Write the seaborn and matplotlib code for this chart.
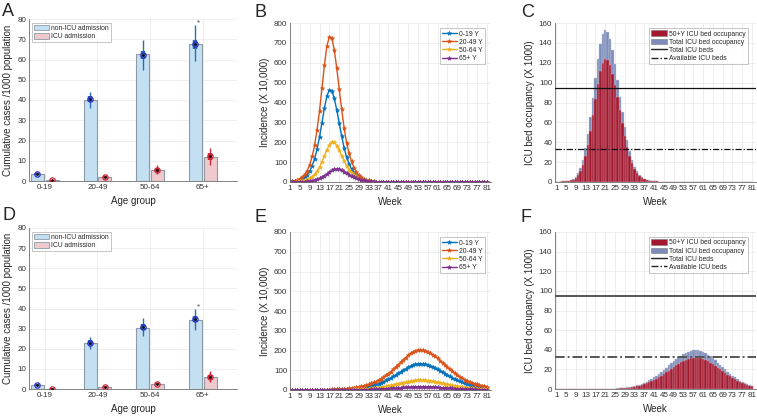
"""
plot.py
Six-panel figure: cumulative cases by age group, weekly incidence, ICU bed occupancy
for two scenarios (top row: early peak, bottom row: delayed peak).
"""
import matplotlib
matplotlib.use("Agg")
import numpy as np
import pandas as pd
import matplotlib.pyplot as plt
import seaborn as sns
from matplotlib.patches import Patch
from matplotlib.lines import Line2D

sns.set_theme(style="whitegrid")
plt.rcParams["font.family"] = ["Liberation Sans", "DejaVu Sans"]

AGE_GROUPS = ["0-19", "20-49", "50-64", "65+"]
WEEKS = list(range(1, 82))
WEEK_TICKS = list(range(1, 82, 4))

# --- panels A / D: cumulative cases per 1000 ---
A_NON_ICU = [3.5, 40.0, 62.5, 67.5]
A_ICU = [0.3, 1.8, 5.5, 12.0]
# (low whisker, q1, median, q3, high whisker)
A_NON_ICU_BOX = [(2.8, 3.2, 3.5, 3.8, 4.2), (36, 39, 40.3, 41.8, 44),
                 (55, 60.3, 62.3, 64.3, 69.5), (59.5, 65, 67.5, 69.8, 77)]
A_ICU_BOX = [(0.1, 0.2, 0.3, 0.4, 0.5), (1.0, 1.5, 1.9, 2.3, 2.8),
             (3.5, 4.6, 5.5, 6.5, 8.0), (8.0, 10.5, 12.2, 13.8, 16.5)]
A_OUTLIER = 79.0

D_NON_ICU = [2.0, 23.0, 30.5, 34.5]
D_ICU = [0.2, 1.0, 2.7, 6.0]
D_NON_ICU_BOX = [(1.5, 1.8, 2.0, 2.3, 2.6), (20, 22, 23, 24.5, 26),
                 (26.5, 29.5, 31, 32.3, 35.5), (29.5, 33.3, 34.8, 36.2, 40)]
D_ICU_BOX = [(0.05, 0.1, 0.2, 0.3, 0.4), (0.5, 0.8, 1.0, 1.3, 1.6),
             (2.0, 2.4, 2.7, 3.1, 3.5), (3.5, 5.0, 6.2, 7.0, 9.0)]
D_OUTLIER = 41.5

# --- panel B: weekly incidence (x 10,000), early epidemic ---
B_0_19 = [2, 3.2, 4.7, 7.3, 11, 16.5, 24, 36, 54, 82,
          117, 166, 227, 299, 372, 433, 463, 458, 421, 363,
          296, 231, 172, 125, 91, 66, 46, 32, 22, 15,
          11, 7.3, 5, 3.4, 2.3, 1.6, 1.1, 0.8, 0.5, 0.3,
          0.2, 0.2, 0.1, 0.1, 0.1, 0.1, 0.1, 0.1, 0.1, 0.1,
          0.1, 0.1, 0.1, 0.1, 0.1, 0.1, 0.1, 0.1, 0.1, 0.1,
          0.1, 0.1, 0.1, 0.1, 0.1, 0.1, 0.1, 0.1, 0.1, 0.1,
          0.1, 0.1, 0.1, 0.1, 0.1, 0.1, 0.1, 0.1, 0.1, 0.1, 0.1]
B_20_49 = [3, 5, 7.5, 11.5, 17, 26, 38, 57, 86, 129,
           185, 263, 358, 473, 588, 684, 732, 723, 665, 573,
           468, 365, 272, 198, 144, 104, 72, 50, 35, 24,
           17, 11.5, 7.9, 5.4, 3.7, 2.5, 1.7, 1.2, 0.8, 0.5,
           0.4, 0.3, 0.2, 0.2, 0.1, 0.1, 0.1, 0.1, 0.1, 0.1,
           0.1, 0.1, 0.1, 0.1, 0.1, 0.1, 0.1, 0.1, 0.1, 0.1,
           0.1, 0.1, 0.1, 0.1, 0.1, 0.1, 0.1, 0.1, 0.1, 0.1,
           0.1, 0.1, 0.1, 0.1, 0.1, 0.1, 0.1, 0.1, 0.1, 0.1, 0.1]
B_50_64 = [0.8, 1.2, 1.8, 2.6, 3.9, 5.8, 8.6, 12.7, 18.6, 27,
           39, 54, 74, 103, 133, 163, 187, 203, 201, 183,
           160, 133, 106, 82, 61, 45, 33, 24, 17, 12,
           8.4, 5.9, 4.1, 2.9, 2.0, 1.4, 1.0, 0.7, 0.5, 0.3,
           0.2, 0.2, 0.1, 0.1, 0.1, 0.1, 0.1, 0.1, 0.1, 0.1,
           0.1, 0.1, 0.1, 0.1, 0.1, 0.1, 0.1, 0.1, 0.1, 0.1,
           0.1, 0.1, 0.1, 0.1, 0.1, 0.1, 0.1, 0.1, 0.1, 0.1,
           0.1, 0.1, 0.1, 0.1, 0.1, 0.1, 0.1, 0.1, 0.1, 0.1, 0.1]
B_65 = [0.2, 0.3, 0.45, 0.65, 1.0, 1.4, 2.1, 3.1, 4.5, 6.5,
        9.3, 13, 18, 24.5, 32, 41, 50, 58, 64, 66,
        64, 59, 52.5, 45, 37.5, 30, 23.5, 18.2, 14, 10.5,
        7.8, 5.8, 4.3, 3.2, 2.3, 1.7, 1.2, 0.9, 0.6, 0.45,
        0.35, 0.25, 0.2, 0.15, 0.1, 0.1, 0.1, 0.1, 0.1, 0.1,
        0.1, 0.1, 0.1, 0.1, 0.1, 0.1, 0.1, 0.1, 0.1, 0.1,
        0.1, 0.1, 0.1, 0.1, 0.1, 0.1, 0.1, 0.1, 0.1, 0.1,
        0.1, 0.1, 0.1, 0.1, 0.1, 0.1, 0.1, 0.1, 0.1, 0.1, 0.1]

# --- panel E: weekly incidence, delayed epidemic ---
E_0_19 = [0.13, 0.16, 0.18, 0.22, 0.25, 0.29, 0.35, 0.41, 0.47, 0.55,
          0.64, 0.75, 0.88, 1.0, 1.2, 1.4, 1.6, 1.9, 2.2, 2.6,
          3.0, 3.5, 4.1, 4.8, 5.6, 6.5, 7.6, 8.9, 10.3, 11.9,
          13.8, 16, 18.6, 21.6, 24.9, 28.2, 32.8, 37.3, 42.6, 48.5,
          54.4, 60.9, 68.8, 76.6, 84.5, 91.7, 100, 107, 115, 121,
          126, 130, 132, 133, 132, 130, 127, 122, 117, 111,
          105, 97.6, 90.4, 83.2, 75.3, 68.8, 61.6, 55.7, 49.8, 44.5,
          39.3, 34.7, 30.8, 27.5, 24.2, 21, 18.3, 16.4, 14.4, 12.4, 10.8]
E_20_49 = [0.2, 0.24, 0.28, 0.33, 0.38, 0.45, 0.53, 0.62, 0.72, 0.84,
           0.98, 1.14, 1.34, 1.57, 1.83, 2.1, 2.5, 2.9, 3.4, 4.0,
           4.6, 5.4, 6.3, 7.4, 8.5, 9.9, 11.6, 13.6, 15.8, 18.2,
           21, 24.4, 28.4, 33, 38, 43, 50, 57, 65, 74,
           83, 93, 105, 117, 129, 140, 153, 164, 175, 185,
           192, 198, 202, 203, 202, 199, 194, 187, 179, 170,
           160, 149, 138, 127, 115, 105, 94, 85, 76, 68,
           60, 53, 47, 42, 37, 32, 28, 25, 22, 19, 16.5]
E_50_64 = [0.05, 0.06, 0.07, 0.08, 0.09, 0.11, 0.13, 0.15, 0.18, 0.21,
           0.24, 0.28, 0.33, 0.39, 0.45, 0.52, 0.62, 0.71, 0.84, 0.98,
           1.1, 1.3, 1.5, 1.8, 2.1, 2.4, 2.9, 3.3, 3.9, 4.5,
           5.2, 6.0, 7.0, 8.1, 9.3, 10.6, 12.3, 14, 16, 18.2,
           20.4, 22.9, 25.8, 28.8, 31.7, 34.4, 37.6, 40.3, 43, 45.5,
           47.2, 48.7, 49.7, 50, 49.7, 49, 47.7, 46, 44, 41.8,
           39.4, 36.7, 33.9, 31.2, 28.3, 25.8, 23.1, 20.9, 18.7, 16.7,
           14.8, 13, 11.6, 10.3, 9.1, 7.9, 6.9, 6.2, 5.4, 4.7, 4.1]
E_65 = [0.02, 0.02, 0.02, 0.03, 0.03, 0.04, 0.04, 0.05, 0.06, 0.07,
        0.08, 0.1, 0.11, 0.13, 0.15, 0.18, 0.21, 0.24, 0.29, 0.34,
        0.39, 0.45, 0.53, 0.62, 0.71, 0.83, 0.97, 1.1, 1.3, 1.5,
        1.8, 2.0, 2.4, 2.8, 3.2, 3.6, 4.2, 4.8, 5.5, 6.2,
        7.0, 7.8, 8.8, 9.8, 10.8, 11.8, 12.9, 13.8, 14.7, 15.5,
        16.1, 16.6, 17, 17, 17, 16.7, 16.3, 15.7, 15, 14.3,
        13.4, 12.5, 11.6, 10.7, 9.7, 8.8, 7.9, 7.1, 6.4, 5.7,
        5.0, 4.5, 3.9, 3.5, 3.1, 2.7, 2.4, 2.1, 1.8, 1.6, 1.4]

# --- panels C / F: ICU bed occupancy (x 1000) ---
C_TOTAL = [0.4, 0.5, 0.6, 0.8, 1.0, 1.4, 2.1, 3.3, 5.5, 8.8,
           14.4, 22.6, 34, 48, 65, 85, 105, 124, 139, 149,
           153, 151, 143.5, 132.5, 118.5, 102.7, 86, 70, 55, 42,
           31, 22.2, 15.3, 10.8, 7.4, 5.0, 3.4, 2.4, 1.7, 1.2,
           0.9, 0.65, 0.5, 0.35, 0.25, 0.18, 0.12, 0.08, 0.05, 0.03,
           0, 0, 0, 0, 0, 0, 0, 0, 0, 0,
           0, 0, 0, 0, 0, 0, 0, 0, 0, 0,
           0, 0, 0, 0, 0, 0, 0, 0, 0, 0, 0]
C_50PLUS = [0.3, 0.4, 0.45, 0.6, 0.75, 1.05, 1.6, 2.5, 4.2, 6.7,
            11, 17.4, 26.2, 37.4, 51, 67, 83.5, 99, 111.5, 120,
            123.5, 123, 117.5, 109, 98, 85.5, 72, 59, 46.5, 35.7,
            26.4, 19, 13.1, 9.3, 6.4, 4.3, 2.9, 2.1, 1.45, 1.03,
            0.77, 0.56, 0.43, 0.3, 0.21, 0.15, 0.1, 0.07, 0.04, 0.03,
            0, 0, 0, 0, 0, 0, 0, 0, 0, 0,
            0, 0, 0, 0, 0, 0, 0, 0, 0, 0,
            0, 0, 0, 0, 0, 0, 0, 0, 0, 0, 0]
F_TOTAL = [0, 0, 0, 0, 0, 0, 0, 0, 0, 0,
           0.01, 0.01, 0.01, 0.02, 0.02, 0.03, 0.03, 0.05, 0.07, 0.1,
           0.14, 0.19, 0.25, 0.33, 0.44, 0.57, 0.75, 0.96, 1.22, 1.55,
           1.95, 2.4, 3.0, 3.7, 4.4, 5.3, 6.4, 7.6, 8.9, 10.4,
           12.0, 13.7, 15.6, 17.6, 19.7, 21.8, 24.0, 26.1, 28.3, 30.3,
           32.3, 34.0, 35.6, 37.0, 38.1, 38.9, 39.3, 39.5, 39.3, 38.8,
           37.9, 36.6, 35.1, 33.3, 31.4, 29.2, 26.9, 24.6, 22.3, 20.0,
           17.8, 15.7, 13.7, 11.8, 10.1, 8.6, 7.2, 6.0, 4.9, 4.1, 3.4]
F_50PLUS = [0, 0, 0, 0, 0, 0, 0, 0, 0, 0,
            0.01, 0.01, 0.01, 0.01, 0.01, 0.02, 0.02, 0.03, 0.04, 0.05,
            0.1, 0.14, 0.18, 0.24, 0.32, 0.42, 0.55, 0.71, 0.9, 1.15,
            1.45, 1.8, 2.2, 2.75, 3.3, 3.95, 4.8, 5.7, 6.7, 7.9,
            9.1, 10.5, 12.0, 13.6, 15.3, 17.0, 18.8, 20.5, 22.3, 24.0,
            25.7, 27.1, 28.4, 29.6, 30.5, 31.1, 31.4, 31.6, 31.5, 31.1,
            30.4, 29.4, 28.2, 26.8, 25.3, 23.6, 21.8, 19.9, 18.1, 16.3,
            14.5, 12.8, 11.2, 9.7, 8.3, 7.1, 5.9, 4.9, 4.0, 3.4, 2.8]
TOTAL_BEDS = 95
AVAILABLE_BEDS = 33

LINE_COLORS = ["#0072BD", "#D95319", "#EDB120", "#7E2F8E"]
LINE_LABELS = ["0-19 Y", "20-49 Y", "50-64 Y", "65+ Y"]
BAR_BLUE, BAR_RED = "#c3dff2", "#f0c9cd"
OCC_RED, OCC_BLUE = "#a3172f", "#7d8cba"
GRID = "#e8e8e8"
TICK_FS, LABEL_FS, LEG_FS = 5.8, 7, 4.9
DASHDOT = (0, (5, 1.5, 1, 1.5))


def _style(ax):
    ax.grid(True, color=GRID, linewidth=0.5)
    ax.set_axisbelow(True)
    for side in ["top", "right"]:
        ax.spines[side].set_visible(False)
    for side in ["left", "bottom"]:
        ax.spines[side].set_color("#6e6e6e")
        ax.spines[side].set_linewidth(0.6)
    ax.tick_params(labelsize=TICK_FS, direction="in", length=2, width=0.5,
                   colors="#333333", pad=2)


def _legend(ax, handles=None, **kw):
    opts = dict(fontsize=LEG_FS, frameon=True, fancybox=False, borderpad=0.3,
                handleheight=0.9, handletextpad=0.3, labelspacing=0.15,
                borderaxespad=0.2)
    opts.update(kw)
    leg = ax.legend(handles=handles, **opts) if handles else ax.legend(**opts)
    leg.get_frame().set_edgecolor("#9a9a9a")
    leg.get_frame().set_linewidth(0.5)


def age_panel(ax, non_icu, icu, box_non, box_icu, outlier):
    df = pd.DataFrame({"Age group": AGE_GROUPS * 2,
                       "value": non_icu + icu,
                       "kind": ["non-ICU admission"] * 4 + ["ICU admission"] * 4})
    sns.barplot(data=df, x="Age group", y="value", hue="kind",
                palette=[BAR_BLUE, BAR_RED], saturation=1, width=0.56, gap=0.12,
                edgecolor="#8e9ba6", linewidth=0.8, errorbar=None,
                legend=False, ax=ax)
    # compact box plots over each bar
    for i in range(len(AGE_GROUPS)):
        for off, stats, lc, mc in [(-0.14, box_non[i], "#2a6db5", "#2b2bd0"),
                                   (0.14, box_icu[i], "#d0283a", "#d0283a")]:
            lo, q1, med, q3, hi = stats
            ax.vlines(i + off, lo, hi, color=lc, linewidth=1.0, zorder=4)
            ax.vlines(i + off, q1, q3, color=lc, linewidth=3.2, zorder=5)
            ax.plot(i + off, med, "o", ms=3.8, mfc="none", mec=mc, mew=0.9, zorder=6)
            ax.plot(i + off, med, "o", ms=1.0, color="#111111", zorder=7)
    ax.plot(3 - 0.1, outlier, ".", ms=1.5, color="#888888", zorder=6)
    _style(ax)
    ax.set_xlim(-0.3, 3.65)
    ax.set_ylim(0, 80)
    ax.set_yticks(range(0, 81, 10))
    ax.set_xlabel("Age group", fontsize=LABEL_FS, labelpad=4)
    ax.set_ylabel("Cumulative cases /1000 population", fontsize=LABEL_FS, labelpad=3)
    handles = [Patch(facecolor=BAR_BLUE, edgecolor="#8e9ba6", linewidth=0.6, label="non-ICU admission"),
               Patch(facecolor=BAR_RED, edgecolor="#8e9ba6", linewidth=0.6, label="ICU admission")]
    _legend(ax, handles, loc="upper left", bbox_to_anchor=(0.01, 0.985), handlelength=2.2)


def incidence_panel(ax, series):
    for vals, color, label in zip(series, LINE_COLORS, LINE_LABELS):
        sns.lineplot(x=WEEKS, y=vals, color=color, linewidth=1.0, marker="*",
                     markersize=3.2, markeredgewidth=0.4, markeredgecolor=color,
                     label=label, ax=ax)
    _style(ax)
    ax.set_xlim(1, 82.7)
    ax.set_ylim(0, 800)
    ax.set_xticks(WEEK_TICKS)
    ax.set_yticks(range(0, 801, 100))
    ax.set_xlabel("Week", fontsize=LABEL_FS, labelpad=4)
    ax.set_ylabel("Incidence (X 10,000)", fontsize=LABEL_FS, labelpad=3)
    _legend(ax, loc="upper right", bbox_to_anchor=(0.975, 0.975), handlelength=2.2)


def occupancy_panel(ax, total, older, line_color, line_width):
    sns.barplot(x=WEEKS, y=total, native_scale=True, width=1.0, color=OCC_BLUE,
                saturation=1, edgecolor="#c9ccd8", linewidth=0.3, errorbar=None, ax=ax)
    sns.barplot(x=WEEKS, y=older, native_scale=True, width=1.0, color=OCC_RED,
                saturation=1, edgecolor="#d6a0a8", linewidth=0.3, errorbar=None, ax=ax)
    ax.axhline(TOTAL_BEDS, color=line_color, linewidth=line_width, zorder=5)
    ax.axhline(AVAILABLE_BEDS, color=line_color, linewidth=line_width,
               linestyle=DASHDOT, zorder=5)
    _style(ax)
    ax.set_xlim(0.5, 82.6)
    ax.set_ylim(0, 160)
    ax.set_xticks(WEEK_TICKS)
    ax.set_xticklabels([str(w) for w in WEEK_TICKS])
    ax.set_yticks(range(0, 161, 20))
    ax.set_xlabel("Week", fontsize=LABEL_FS, labelpad=4)
    ax.set_ylabel("ICU bed occupancy (X 1000)", fontsize=LABEL_FS, labelpad=3)
    handles = [Patch(facecolor=OCC_RED, edgecolor="#7a7a7a", linewidth=0.4, label="50+Y ICU bed occupancy"),
               Patch(facecolor=OCC_BLUE, edgecolor="#7a7a7a", linewidth=0.4, label="Total ICU bed occupancy"),
               Line2D([], [], color="#222222", linewidth=1.0, label="Total ICU beds"),
               Line2D([], [], color="#222222", linewidth=1.0, linestyle=DASHDOT,
                      label="Available ICU beds")]
    _legend(ax, handles, loc="upper right", bbox_to_anchor=(0.965, 0.975), handlelength=2.4)


def main():
    fig = plt.figure(figsize=(7.57, 4.16), dpi=100)
    W, H = 757, 416

    def box(l, t, r, b):
        return [l / W, 1 - b / H, (r - l) / W, (b - t) / H]

    ax_a = fig.add_axes(box(29, 19, 237, 181))
    ax_b = fig.add_axes(box(290, 23, 491, 182))
    ax_c = fig.add_axes(box(555, 23, 756, 182))
    ax_d = fig.add_axes(box(29, 228, 237, 389))
    ax_e = fig.add_axes(box(290, 232, 491, 390))
    ax_f = fig.add_axes(box(555, 232, 756, 389))

    age_panel(ax_a, A_NON_ICU, A_ICU, A_NON_ICU_BOX, A_ICU_BOX, A_OUTLIER)
    age_panel(ax_d, D_NON_ICU, D_ICU, D_NON_ICU_BOX, D_ICU_BOX, D_OUTLIER)
    incidence_panel(ax_b, [B_0_19, B_20_49, B_50_64, B_65])
    incidence_panel(ax_e, [E_0_19, E_20_49, E_50_64, E_65])
    occupancy_panel(ax_c, C_TOTAL, C_50PLUS, "#111111", 0.9)
    occupancy_panel(ax_f, F_TOTAL, F_50PLUS, "#555555", 1.4)

    # panel letters
    for letter, x, y in [("A", 2, 16), ("B", 255, 17), ("C", 521, 17),
                         ("D", 2, 220), ("E", 255, 222), ("F", 521, 222)]:
        fig.text(x / W, 1 - y / H, letter, fontsize=13, ha="left", va="baseline")

    fig.savefig("out.png", dpi=100)
    plt.close(fig)


if __name__ == "__main__":
    main()
